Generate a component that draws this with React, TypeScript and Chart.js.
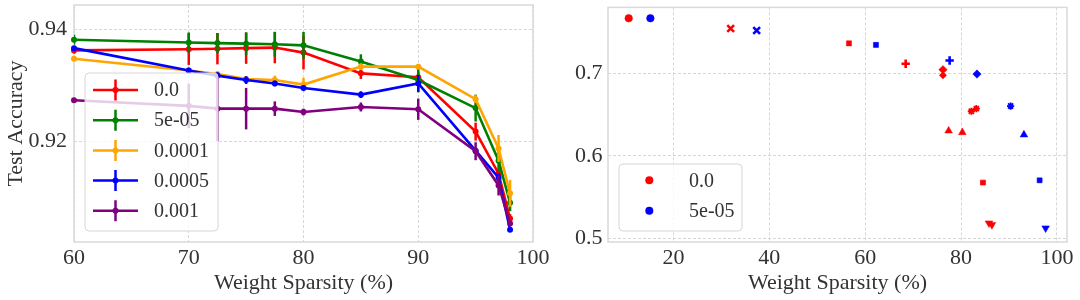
import React, { useEffect, useRef } from 'react';
import Chart from 'chart.js/auto';

// ---------------- data ----------------
const sparsity = [60, 70, 72.5, 75, 77.5, 80, 85, 90, 95, 97, 98];
const decayLabels = ['0.0', '5e-05', '0.0001', '0.0005', '0.001'];

const acc_0 = [0.9362, 0.9364, 0.9365, 0.9366, 0.9367, 0.9358, 0.9321, 0.9314, 0.9217, 0.9142, 0.9062];
const err_0 = [0.0006, 0.0028, 0.0028, 0.0028, 0.0028, 0.003, 0.001, 0.001, 0.0016, 0.0009, 0.0008];

const acc_5e5 = [0.9381, 0.9376, 0.9375, 0.9374, 0.9373, 0.9371, 0.9342, 0.9309, 0.9259, 0.9165, 0.909];
const err_5e5 = [0.0009, 0.0018, 0.0018, 0.002, 0.0022, 0.0024, 0.0013, 0.0022, 0.0024, 0.0018, 0.0015];

const acc_1e4 = [0.9347, 0.9326, 0.932, 0.9311, 0.9309, 0.9301, 0.9333, 0.9333, 0.9275, 0.9187, 0.9107];
const err_1e4 = [0.0003, 0.0003, 0.0003, 0.0005, 0.0008, 0.0012, 0.0006, 0.0004, 0.0007, 0.0024, 0.0024];

const acc_5e4 = [0.9366, 0.9326, 0.9317, 0.9309, 0.9303, 0.9295, 0.9283, 0.9303, 0.9183, 0.9135, 0.9042];
const err_5e4 = [0.0004, 0.0005, 0.0006, 0.0007, 0.0005, 0.0004, 0.0006, 0.0015, 0.0005, 0.0007, 0.0004];

const acc_1e3 = [0.9273, 0.9263, 0.9258, 0.9258, 0.9258, 0.9252, 0.9261, 0.9257, 0.9182, 0.9121, 0.9053];
const err_1e3 = [0.0003, 0.004, 0.0058, 0.0037, 0.0013, 0.0006, 0.0008, 0.0019, 0.0016, 0.0018, 0.0005];

const leftXTicks = [60, 70, 80, 90, 100];
const leftXTickLabels = ['60', '70', '80', '90', '100'];
const leftYTicks = [0.92, 0.94];
const leftYTickLabels = ['0.92', '0.94'];

const rightLabels = ['0.0', '5e-05'];
const redSparsity = [10.68, 31.95, 56.62, 68.45, 76.23, 76.23, 82.15, 83.19, 77.41, 80.27, 84.57, 85.82, 86.44];
const redAcc = [0.7662, 0.7538, 0.7359, 0.7112, 0.7041, 0.6973, 0.6539, 0.657, 0.6303, 0.6283, 0.5678, 0.5188, 0.5168];
const blueSparsity = [15.2, 37.37, 62.25, 77.62, 83.32, 90.34, 93.12, 96.39, 97.64];
const blueAcc = [0.7662, 0.7514, 0.734, 0.7152, 0.6988, 0.6602, 0.6255, 0.5705, 0.5128];

const rightXTicks = [20, 40, 60, 80, 100];
const rightXTickLabels = ['20', '40', '60', '80', '100'];
const rightYTicks = [0.5, 0.6, 0.7];
const rightYTickLabels = ['0.5', '0.6', '0.7'];

// ---------------- styles ----------------
const FONT = 'Liberation Serif';
const TEXT = '#333333';
const lineColors = ['#ff0000', '#008000', '#ffa500', '#0000ff', '#800080'];
const redKinds = ['o', 'X', 's', 'P', 'D', 'd', '*', '*', '^', '^', 'x', 'v', 'v'];
const blueKinds = ['o', 'X', 's', 'P', 'D', '*', '^', 'x', 'v'];
const kindStyle: Record<string, { style: string; r: number; rot: number; bw: number }> = {
  o: { style: 'circle', r: 3.8, rot: 0, bw: 0.5 },
  X: { style: 'crossRot', r: 4.8, rot: 0, bw: 2.6 },
  s: { style: 'rect', r: 3.6, rot: 0, bw: 0.5 },
  P: { style: 'cross', r: 4.2, rot: 0, bw: 2.6 },
  D: { style: 'rectRot', r: 4.2, rot: 0, bw: 0.5 },
  d: { style: 'rectRot', r: 3.6, rot: 0, bw: 0.5 },
  '*': { style: 'star', r: 3.6, rot: 0, bw: 1.8 },
  '^': { style: 'triangle', r: 4.4, rot: 0, bw: 0.5 },
  x: { style: 'rect', r: 3.4, rot: 0, bw: 0.8 },
  v: { style: 'triangle', r: 4.4, rot: 180, bw: 0.5 },
};

function makeAxis(min: number, max: number, ticks: number[], labels: string[], pad: number, title?: string, titlePad?: any) {
  return {
    type: 'linear',
    min,
    max,
    afterBuildTicks: (s: any) => {
      s.ticks = ticks.map((v) => ({ value: v }));
    },
    ticks: {
      autoSkip: false,
      maxRotation: 0,
      padding: pad,
      color: TEXT,
      font: { family: FONT, size: 22 },
      callback: (v: number) => {
        const i = ticks.indexOf(v);
        return i >= 0 ? labels[i] : '';
      },
    },
    grid: { color: '#d2d2d2', lineWidth: 0.9, drawTicks: false },
    border: { display: false, dash: [3, 2] },
    title: title
      ? { display: true, text: title, color: TEXT, font: { family: FONT, size: 22 }, padding: titlePad }
      : { display: false },
  };
}

const framePlugin = {
  id: 'frame',
  beforeDatasetsDraw(chart: any) {
    const { ctx, chartArea: ca } = chart;
    ctx.save();
    ctx.strokeStyle = '#d9d9d9';
    ctx.lineWidth = 1.5;
    ctx.strokeRect(ca.left, ca.top, ca.right - ca.left, ca.bottom - ca.top);
    ctx.restore();
  },
};

const errorBarPlugin = {
  id: 'errorBars',
  afterDatasetDraw(chart: any, args: any) {
    const ds: any = chart.data.datasets[args.index];
    if (!ds.errors) return;
    const { ctx, chartArea: ca } = chart;
    const yScale = chart.scales.y;
    ctx.save();
    ctx.beginPath();
    ctx.rect(ca.left, ca.top, ca.right - ca.left, ca.bottom - ca.top);
    ctx.clip();
    ctx.strokeStyle = ds.borderColor;
    ctx.lineWidth = 2.5;
    args.meta.data.forEach((pt: any, i: number) => {
      const raw = ds.data[i];
      const e = ds.errors[i];
      const y1 = yScale.getPixelForValue(raw.y + e);
      const y2 = yScale.getPixelForValue(raw.y - e);
      ctx.beginPath();
      ctx.moveTo(pt.x, y1);
      ctx.lineTo(pt.x, y2);
      ctx.stroke();
    });
    ctx.restore();
  },
};

function roundRectPath(ctx: CanvasRenderingContext2D, x: number, y: number, w: number, h: number, r: number) {
  ctx.beginPath();
  ctx.moveTo(x + r, y);
  ctx.lineTo(x + w - r, y);
  ctx.arcTo(x + w, y, x + w, y + r, r);
  ctx.lineTo(x + w, y + h - r);
  ctx.arcTo(x + w, y + h, x + w - r, y + h, r);
  ctx.lineTo(x + r, y + h);
  ctx.arcTo(x, y + h, x, y + h - r, r);
  ctx.lineTo(x, y + r);
  ctx.arcTo(x, y, x + r, y, r);
  ctx.closePath();
}

function drawLegendBox(ctx: CanvasRenderingContext2D, x0: number, y0: number, w: number, h: number) {
  roundRectPath(ctx, x0, y0, w, h, 4);
  ctx.fillStyle = 'rgba(255,255,255,0.8)';
  ctx.fill();
  ctx.strokeStyle = '#d6d6d6';
  ctx.lineWidth = 1;
  ctx.stroke();
}

const leftLegendPlugin = {
  id: 'leftLegend',
  afterDraw(chart: any) {
    const { ctx, chartArea: ca } = chart;
    const w = 133, h = 158;
    const x0 = ca.left + 11, y0 = ca.bottom - 11 - h;
    ctx.save();
    drawLegendBox(ctx, x0, y0, w, h);
    chart.data.datasets.forEach((ds: any, i: number) => {
      const y = y0 + 17 + i * 30.2;
      const cx = x0 + 30.5;
      ctx.strokeStyle = ds.borderColor;
      ctx.lineWidth = 2.5;
      ctx.beginPath();
      ctx.moveTo(x0 + 8, y);
      ctx.lineTo(x0 + 53, y);
      ctx.moveTo(cx, y - 10.5);
      ctx.lineTo(cx, y + 10.5);
      ctx.stroke();
      ctx.fillStyle = ds.borderColor;
      ctx.beginPath();
      ctx.arc(cx, y, 3, 0, Math.PI * 2);
      ctx.fill();
      ctx.fillStyle = TEXT;
      ctx.font = `20px "${FONT}"`;
      ctx.textBaseline = 'middle';
      ctx.textAlign = 'left';
      ctx.fillText(ds.label, x0 + 69, y + 1);
    });
    ctx.restore();
  },
};

const rightLegendPlugin = {
  id: 'rightLegend',
  afterDraw(chart: any) {
    const { ctx, chartArea: ca } = chart;
    const w = 123, h = 67;
    const x0 = ca.left + 11, y0 = ca.bottom - 11 - h;
    ctx.save();
    drawLegendBox(ctx, x0, y0, w, h);
    chart.data.datasets.forEach((ds: any, i: number) => {
      const y = y0 + 16.3 + i * 30.4;
      ctx.fillStyle = ds.color;
      ctx.beginPath();
      ctx.arc(x0 + 30.3, y, 4, 0, Math.PI * 2);
      ctx.fill();
      ctx.fillStyle = TEXT;
      ctx.font = `20px "${FONT}"`;
      ctx.textBaseline = 'middle';
      ctx.textAlign = 'left';
      ctx.fillText(ds.label, x0 + 70, y + 1);
    });
    ctx.restore();
  },
};

function fixX(s: any) {
  s.height = 58;
  s.paddingLeft = 0;
  s.paddingRight = 0;
}
function fixY(width: number) {
  return (s: any) => {
    s.width = width;
    s.paddingTop = 0;
    s.paddingBottom = 0;
  };
}

function leftConfig(): any {
  const accs = [acc_0, acc_5e5, acc_1e4, acc_5e4, acc_1e3];
  const errs = [err_0, err_5e5, err_1e4, err_5e4, err_1e3];
  const n = accs.length;
  return {
    type: 'line',
    data: {
      datasets: accs.map((acc, i) => ({
        label: decayLabels[i],
        data: sparsity.map((x, j) => ({ x, y: acc[j] })),
        errors: errs[i],
        borderColor: lineColors[i],
        backgroundColor: lineColors[i],
        borderWidth: 2.6,
        pointRadius: 3,
        pointBorderWidth: 0,
        pointBackgroundColor: lineColors[i],
        tension: 0,
        fill: false,
        order: n - 1 - i,
        clip: 3,
      })),
    },
    options: {
      responsive: false,
      animation: false,
      devicePixelRatio: 1,
      layout: { padding: { left: 0, right: 27, top: 5, bottom: 0 } },
      plugins: { legend: { display: false }, tooltip: { enabled: false } },
      scales: {
        x: {
          ...makeAxis(60, 100, leftXTicks, leftXTickLabels, 3, 'Weight Sparsity (%)', { top: 0, bottom: 4 }),
          afterFit: fixX,
        },
        y: {
          ...makeAxis(0.902, 0.9443, leftYTicks, leftYTickLabels, 7, 'Test Accuracy', { top: 3, bottom: 0 }),
          afterFit: fixY(74),
        },
      },
    },
    plugins: [framePlugin, errorBarPlugin, leftLegendPlugin],
  };
}

function scatterDataset(label: string, color: string, xs: number[], ys: number[], kinds: string[]) {
  return {
    label,
    color,
    data: xs.map((x, j) => ({ x, y: ys[j] })),
    pointStyle: kinds.map((k) => kindStyle[k].style),
    pointRadius: kinds.map((k) => kindStyle[k].r),
    pointRotation: kinds.map((k) => kindStyle[k].rot),
    pointBorderWidth: kinds.map((k) => kindStyle[k].bw),
    pointBackgroundColor: color,
    pointBorderColor: color,
    showLine: false,
  };
}

function rightConfig(): any {
  return {
    type: 'scatter',
    data: {
      datasets: [
        scatterDataset(rightLabels[0], '#ff0000', redSparsity, redAcc, redKinds),
        scatterDataset(rightLabels[1], '#0000ff', blueSparsity, blueAcc, blueKinds),
      ],
    },
    options: {
      responsive: false,
      animation: false,
      devicePixelRatio: 1,
      layout: { padding: { left: 0, right: 13, top: 5, bottom: 0 } },
      plugins: { legend: { display: false }, tooltip: { enabled: false } },
      scales: {
        x: {
          ...makeAxis(6.36, 102.1, rightXTicks, rightXTickLabels, 3, 'Weight Sparsity (%)', { top: 0, bottom: 4 }),
          afterFit: fixX,
        },
        y: {
          ...makeAxis(0.496, 0.7793, rightYTicks, rightYTickLabels, 5.5),
          afterFit: fixY(68),
        },
      },
    },
    plugins: [framePlugin, rightLegendPlugin],
  };
}

export default function App() {
  const leftRef = useRef<HTMLCanvasElement>(null);
  const rightRef = useRef<HTMLCanvasElement>(null);
  useEffect(() => {
    const c1 = new Chart(leftRef.current as HTMLCanvasElement, leftConfig());
    const c2 = new Chart(rightRef.current as HTMLCanvasElement, rightConfig());
    return () => {
      c1.destroy();
      c2.destroy();
    };
  }, []);
  return (
    <div style={{ position: 'fixed', left: 0, top: 0, width: 1080, height: 300, background: '#ffffff' }}>
      <canvas ref={rightRef} width={540} height={300} style={{ position: 'absolute', left: 540, top: 0 }} />
      <canvas ref={leftRef} width={560} height={300} style={{ position: 'absolute', left: 0, top: 0 }} />
    </div>
  );
}
